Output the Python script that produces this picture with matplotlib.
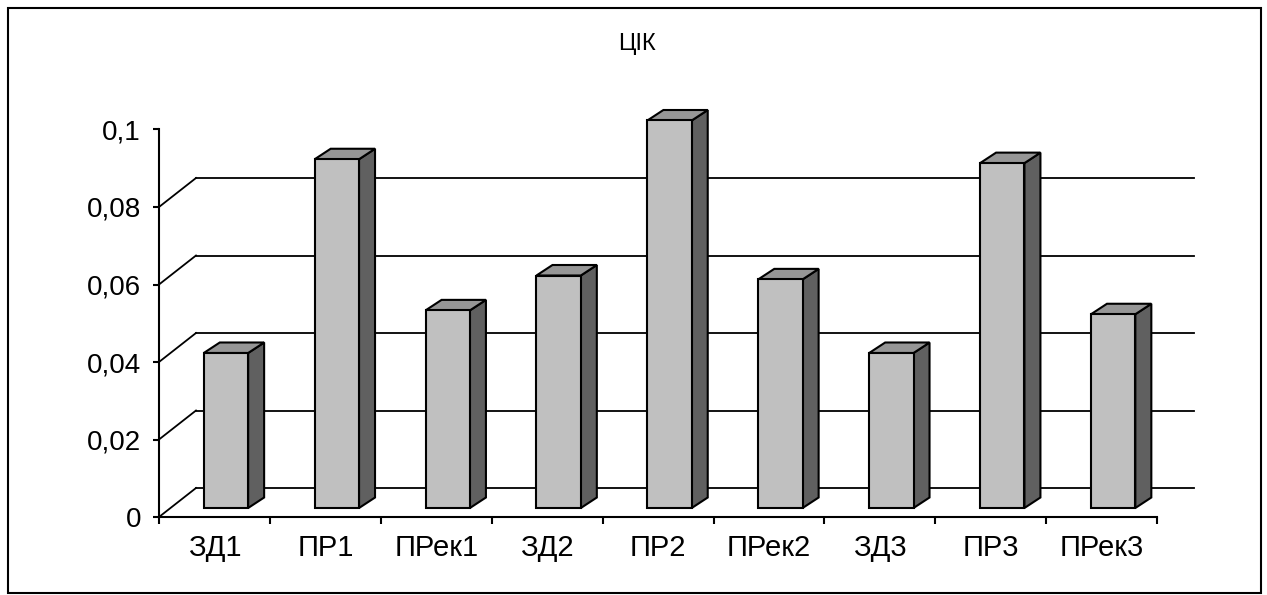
import matplotlib.pyplot as plt
from matplotlib.patches import Polygon, Rectangle
from matplotlib.ticker import FixedLocator, NullFormatter
import numpy as np

categories = ['ЗД1', 'ПР1', 'ПРек1', 'ЗД2', 'ПР2', 'ПРек2', 'ЗД3', 'ПР3', 'ПРек3']
values = [0.04, 0.09, 0.051, 0.06, 0.1, 0.059, 0.04, 0.089, 0.05]
yticks = [0, 0.02, 0.04, 0.06, 0.08, 0.1]
ytick_labels = ['0', '0,02', '0,04', '0,06', '0,08', '0,1']
title = 'ЦІК'

plt.rcParams['font.family'] = ['Liberation Sans', 'DejaVu Sans']

W, H = 1267, 595
fig = plt.figure(figsize=(W / 100, H / 100), dpi=100)
ax = fig.add_axes([0, 0, 1, 1])

# pixel scale: one category and one unit of value
px_x = 110.9
px_y = 3875.0
x0, y0 = 159, 517
ax.set_xlim(-x0 / px_x, (W - x0) / px_x)
ax.set_ylim((y0 - H) / px_y, y0 / px_y)

n = len(categories)
# wall depth, bar placement and bar depth (in data units)
DX, DY = 37 / px_x, 29 / px_y
FX, FY = 11.5 / px_x, 9 / px_y
BX, BY = 16 / px_x, 10.5 / px_y
bar_left, bar_w = 0.3, 0.4

lw = 1.3
# back wall gridlines and the slanted side wall lines
for t in yticks[:-1]:
    ax.plot([DX, n + DX], [t + DY, t + DY], color='black', lw=lw, zorder=1)
    ax.plot([0, DX], [t, t + DY], color='black', lw=lw, zorder=1)

# 3d bars
for i, v in enumerate(values):
    xl = i + bar_left + FX
    yb = FY
    yt = yb + v
    xr = xl + bar_w
    front = Rectangle((xl, yb), bar_w, v, facecolor='#c0c0c0',
                      edgecolor='black', lw=1.5, zorder=3)
    top = Polygon([(xl, yt), (xr, yt), (xr + BX, yt + BY), (xl + BX, yt + BY)],
                  closed=True, facecolor='#969696', edgecolor='black',
                  lw=1.5, zorder=3, joinstyle='miter')
    side = Polygon([(xr, yb), (xr + BX, yb + BY), (xr + BX, yt + BY), (xr, yt)],
                   closed=True, facecolor='#606060', edgecolor='black',
                   lw=1.5, zorder=3, joinstyle='miter')
    ax.add_patch(side)
    ax.add_patch(top)
    ax.add_patch(front)

# front axes as spines
for s in ['top', 'right']:
    ax.spines[s].set_visible(False)
ax.spines['left'].set_position(('data', 0))
ax.spines['bottom'].set_position(('data', 0))
ax.spines['left'].set_bounds(0, yticks[-1])
ax.spines['bottom'].set_bounds(0, n)
for s in ['left', 'bottom']:
    ax.spines[s].set_linewidth(1.5)
    ax.spines[s].set_zorder(4)

ax.set_yticks(yticks)
ax.set_yticklabels(ytick_labels)
ax.tick_params(axis='y', direction='out', length=4, width=1.5, pad=9,
               labelsize=20)

ax.xaxis.set_major_locator(FixedLocator(np.arange(n + 1)))
ax.xaxis.set_major_formatter(NullFormatter())
ax.set_xticks(np.arange(n) + 0.5, minor=True)
ax.set_xticklabels(categories, minor=True)
ax.tick_params(axis='x', which='major', direction='out', length=5, width=1.5)
ax.tick_params(axis='x', which='minor', length=0, pad=12, labelsize=21)

fig.text(637 / W, 1 - 44 / H, title, ha='center', va='center', fontsize=17)

# chart border
fig.patches.append(Rectangle((8 / W, 2 / H), (1261 - 8) / W, (593 - 8) / H,
                             transform=fig.transFigure, fill=False,
                             edgecolor='black', lw=1.5))

fig.savefig('out.png', dpi=100)
